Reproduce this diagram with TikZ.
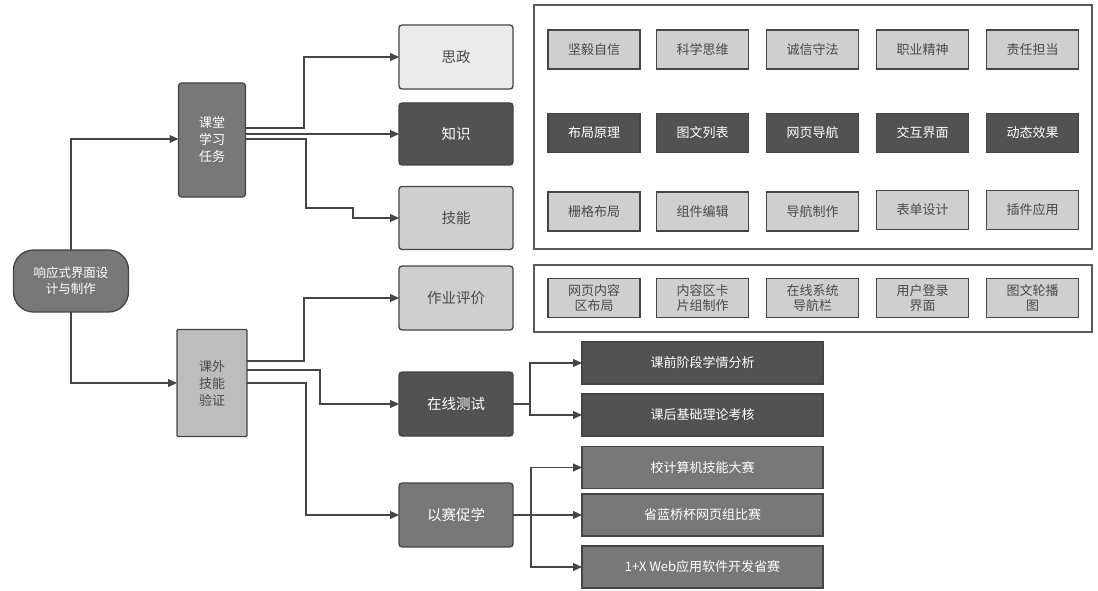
\documentclass[tikz,border=0pt]{standalone}
\usepackage{fontspec}
\newfontfamily\cjk{Noto Sans CJK SC}
\usetikzlibrary{arrows.meta,calc}
\definecolor{cdark}{HTML}{525252}
\definecolor{cmid}{HTML}{787878}
\definecolor{clight}{HTML}{CFCFCF}
\definecolor{cpale}{HTML}{EBEBEB}
\definecolor{cgrey}{HTML}{BDBDBD}
\definecolor{cline}{HTML}{454545}
\definecolor{ctext}{HTML}{4A4A4A}
\tikzset{
  base/.style={draw=cline, line width=1.3pt, rounded corners=3pt, inner sep=0pt, outer sep=0pt, align=center},
  lvtwo/.style={base, minimum width=114pt, minimum height=64pt, font=\cjk\fontsize{14.5}{17}\selectfont},
  lvone/.style={base, font=\cjk\fontsize{13}{17}\selectfont},
  item/.style={draw=cline, line width=1.6pt, inner sep=0pt, outer sep=0pt, align=center, minimum width=92pt, minimum height=39pt, font=\cjk\fontsize{13}{15}\selectfont},
  wide/.style={draw=cline, line width=1.3pt, inner sep=0pt, outer sep=0pt, align=center, minimum width=241pt, minimum height=42pt, font=\cjk\fontsize{13}{15}\selectfont, text=white},
  lightfill/.style={fill=clight, text=ctext},
  darkfill/.style={fill=cdark, text=white},
  frame/.style={draw=black!65, line width=1.6pt, fill=white},
  conn/.style={draw=cline, line width=1.2pt},
  arr/.style={conn, -{Triangle[length=9pt,width=8pt]}},
}
\begin{document}
\begin{tikzpicture}[x=1pt,y=-1pt]
\useasboundingbox (0,0) rectangle (1098,591);

% outer frames
\draw[frame] (534,5) rectangle (1092,249);
\draw[frame] (534,265) rectangle (1092,332);

% root and first level
\node[lvone, fill=cmid, text=white, rounded corners=20pt, minimum width=115pt, minimum height=62pt, font=\cjk\fontsize{12.5}{16}\selectfont] (root) at (71,281) {响应式界面设\\计与制作};
\node[lvone, fill=cmid, text=white, minimum width=67pt, minimum height=114pt] (kt) at (212,140) {课堂\\学习\\任务};
\node[lvone, fill=cgrey, text=ctext, rounded corners=1pt, minimum width=70pt, minimum height=107pt] (kw) at (212,383) {课外\\技能\\验证};

% second level
\node[lvtwo, fill=cpale, text=ctext] (sz) at (456,57) {思政};
\node[lvtwo, fill=cdark, text=white, minimum height=62pt] (zs) at (456,134) {知识};
\node[lvtwo, fill=clight, text=ctext, minimum height=63pt] (jn) at (456,218) {技能};
\node[lvtwo, fill=clight, text=ctext] (zy) at (456,298) {作业评价};
\node[lvtwo, fill=cdark, text=white] (zx) at (456,404) {在线测试};
\node[lvtwo, fill=cmid, text=white] (ys) at (456,515) {以赛促学};

% items row 1
\node[item, lightfill] (a1) at (594,49.5) {坚毅自信};
\node[item, lightfill] (a2) at (702.5,49.5) {科学思维};
\node[item, lightfill] (a3) at (812.5,49.5) {诚信守法};
\node[item, lightfill] (a4) at (922.5,49.5) {职业精神};
\node[item, lightfill] (a5) at (1032.5,49.5) {责任担当};
% row 2
\node[item, darkfill] (b1) at (594,133) {布局原理};
\node[item, darkfill] (b2) at (702.5,133) {图文列表};
\node[item, darkfill] (b3) at (812.5,133) {网页导航};
\node[item, darkfill] (b4) at (922.5,133) {交互界面};
\node[item, darkfill] (b5) at (1032.5,133) {动态效果};
% row 3
\node[item, lightfill] (c1) at (594,211.5) {栅格布局};
\node[item, lightfill] (c2) at (702.5,211.5) {组件编辑};
\node[item, lightfill] (c3) at (812.5,211.5) {导航制作};
\node[item, lightfill] (c4) at (922.5,210) {表单设计};
\node[item, lightfill] (c5) at (1032.5,210) {插件应用};
% row 4
\node[item, lightfill, font=\cjk\fontsize{13}{14.5}\selectfont] (d1) at (594,298) {网页内容\\区布局};
\node[item, lightfill, font=\cjk\fontsize{13}{14.5}\selectfont] (d2) at (702.5,298) {内容区卡\\片组制作};
\node[item, lightfill, font=\cjk\fontsize{13}{14.5}\selectfont] (d3) at (812.5,298) {在线系统\\导航栏};
\node[item, lightfill, font=\cjk\fontsize{13}{14.5}\selectfont] (d4) at (922.5,298) {用户登录\\界面};
\node[item, lightfill, font=\cjk\fontsize{13}{14.5}\selectfont] (d5) at (1032.5,298) {图文轮播\\图};

% lower right boxes
\node[wide, fill=cdark] (q1) at (702.5,363) {课前阶段学情分析};
\node[wide, fill=cdark] (q2) at (702.5,415) {课后基础理论考核};
\node[wide, fill=cmid] (r1) at (702.5,467.5) {校计算机技能大赛};
\node[wide, fill=cmid] (r2) at (702.5,515) {省蓝桥杯网页组比赛};
\node[wide, fill=cmid] (r3) at (702.5,567) {1+X Web应用软件开发省赛};

% connectors from root
\draw[arr] (root.north) |- ([yshift=1pt]kt.west);
\draw[arr] (root.south) |- (kw.west);

% from kt
\draw[arr] ([yshift=12pt]kt.east) -| ($(sz.west)+(-95,0)$) -- (sz.west);
\draw[arr] ([yshift=6pt]kt.east) -- (zs.west);
\draw[arr] ([yshift=1pt]kt.east) -| ($(jn.west)+(-93,-10)$) -| ($(jn.west)+(-46,0)$) -- (jn.west);

% from kw
\draw[arr] ([yshift=22pt]kw.east) -| ($(zy.west)+(-95,0)$) -- (zy.west);
\draw[arr] ([yshift=13pt]kw.east) -| ($(zx.west)+(-79,0)$) -- (zx.west);
\draw[arr] (kw.east) -| ($(ys.west)+(-93,0)$) -- (ys.west);

% from zx
\coordinate (zj) at ($(zx.east)+(17,0)$);
\draw[conn] (zx.east) -- (zj);
\draw[arr] (zj) |- (q1.west);
\draw[arr] (zj) |- (q2.west);

% from ys
\coordinate (yj) at ($(ys.east)+(18,0)$);
\draw[conn] (ys.east) -- (yj);
\draw[arr] (yj) |- (r1.west);
\draw[arr] (yj) |- (r2.west);
\draw[arr] (yj) |- (r3.west);
\end{tikzpicture}
\end{document}
